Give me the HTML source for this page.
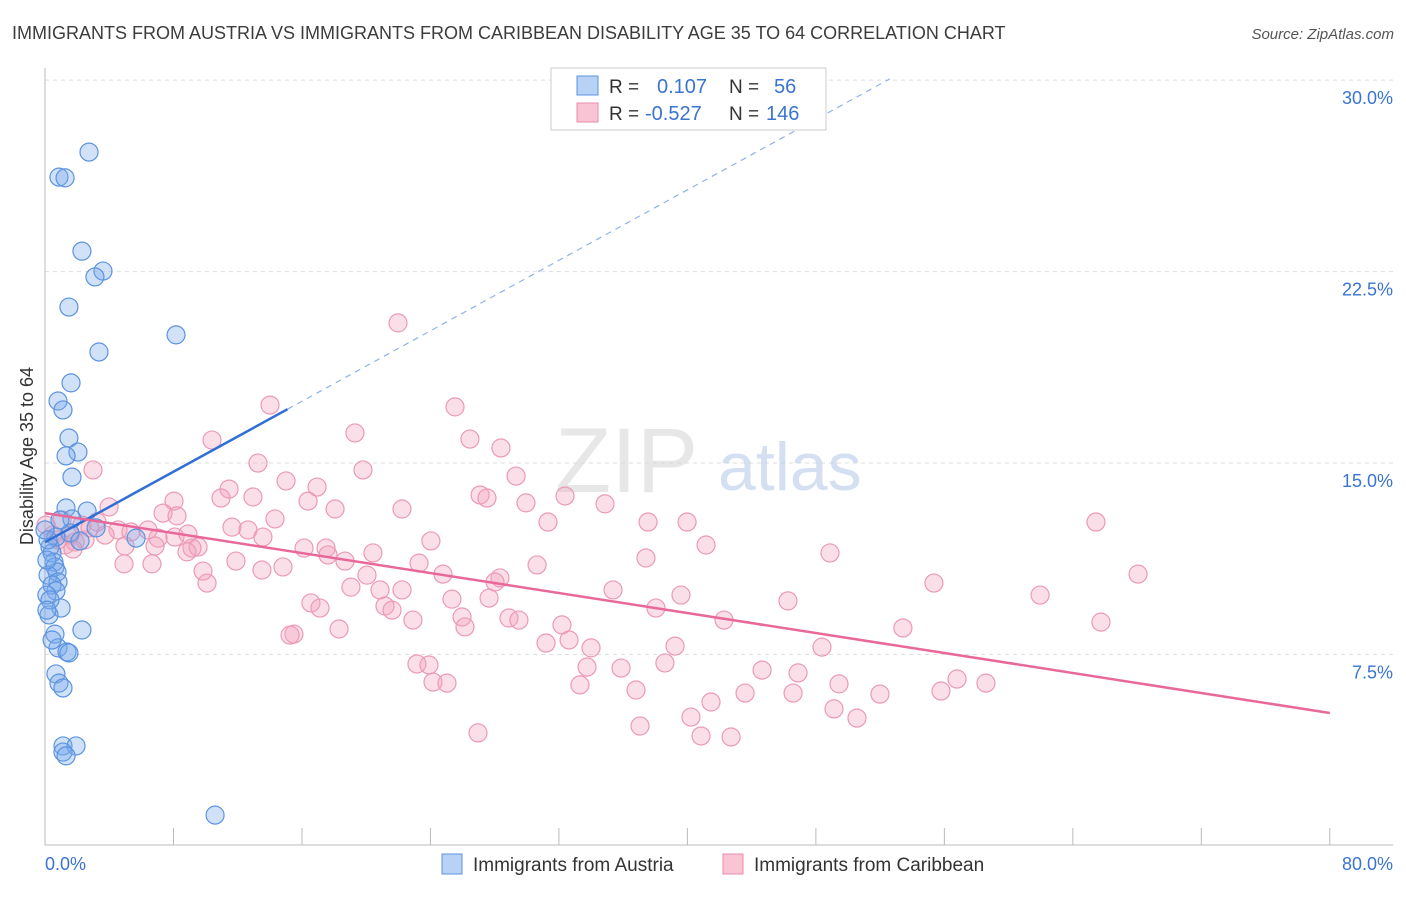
<!DOCTYPE html>
<html><head><meta charset="utf-8"><style>
body{margin:0;background:#fff;font-family:"Liberation Sans",sans-serif;}
svg text{font-family:"Liberation Sans",sans-serif;}
</style></head><body>
<svg id="chart" width="1406" height="892" xmlns="http://www.w3.org/2000/svg">
<text x="12" y="39" font-size="18" fill="#3c3c3c">IMMIGRANTS FROM AUSTRIA VS IMMIGRANTS FROM CARIBBEAN DISABILITY AGE 35 TO 64 CORRELATION CHART</text>
<text x="1394" y="39" font-size="15" fill="#555" text-anchor="end" font-style="italic">Source: ZipAtlas.com</text>
<g id="grid"></g>
<text x="555" y="492" font-size="92" fill="#d8d8d8" font-family="Liberation Serif" opacity="0.6">ZIP</text>
<text x="718" y="490" font-size="68" fill="#b8cdea" opacity="0.6">atlas</text>
<g id="marks"></g>
<text transform="translate(33,456) rotate(-90)" font-size="18" fill="#333" text-anchor="middle">Disability Age 35 to 64</text>
<g>
<rect x="551" y="68" width="275" height="62" fill="#fff" stroke="#ccc"/>
<rect x="577" y="76" width="21" height="19" fill="#b8d2f5" stroke="#5b93e0"/>
<rect x="577" y="103" width="21" height="19" fill="#f9c4d3" stroke="#ea8ca8"/>
<text x="609" y="93" font-size="19" fill="#333">R =</text><text x="657" y="93" font-size="20" fill="#3a74d0">0.107</text>
<text x="729" y="93" font-size="19" fill="#333">N =</text><text x="774" y="93" font-size="20" fill="#3a74d0">56</text>
<text x="609" y="120" font-size="19" fill="#333">R =</text><text x="645" y="120" font-size="20" fill="#3a74d0">-0.527</text>
<text x="729" y="120" font-size="19" fill="#333">N =</text><text x="766" y="120" font-size="20" fill="#3a74d0">146</text>
</g>
<g>
<rect x="442" y="854" width="20" height="20" fill="#b8d2f5" stroke="#5b93e0"/>
<text x="473" y="871" font-size="19" fill="#333">Immigrants from Austria</text>
<rect x="723" y="854" width="20" height="20" fill="#f9c4d3" stroke="#ea8ca8"/>
<text x="754" y="871" font-size="19" fill="#333">Immigrants from Caribbean</text>
</g>
</svg>
<script>
const blueX=[2.74,0.87,1.25,2.3,3.61,3.11,1.49,8.16,3.36,1.62,0.81,1.12,1.49,2.05,1.31,1.68,1.31,2.62,1.68,3.18,1.56,0.68,2.18,0.31,0.44,0.56,0.62,0.75,0.19,0.81,0.44,0.68,0.12,1.0,0.25,2.3,0.62,0.81,1.37,1.49,0.68,0.87,1.12,1.12,1.93,1.12,1.31,10.59,5.67,0.19,0.12,0.31,0.12,0.44,0.93,0];
const blueY=[27.18,26.2,26.17,23.3,22.52,22.29,21.11,20.02,19.35,18.14,17.43,17.08,15.98,15.43,15.28,14.45,13.24,13.12,12.81,12.46,12.26,12.1,11.95,11.71,11.48,11.12,10.93,10.73,10.61,10.34,10.22,9.99,9.83,9.32,9.05,8.46,8.3,7.76,7.6,7.56,6.74,6.38,6.19,3.92,3.92,3.68,3.53,1.21,12.06,11.99,11.2,9.64,9.24,8.07,12.77,12.38];
const pinkX=[21.98,14.01,25.53,19.3,10.4,26.46,28.39,13.26,2.99,19.8,29.33,15.01,11.46,16.94,27.09,32.38,27.52,12.95,8.03,10.96,16.38,34.87,3.99,29.95,22.23,18.06,7.35,8.22,14.32,31.32,37.55,39.98,65.44,3.24,11.64,1.06,4.55,6.41,1.56,5.35,12.64,8.09,8.9,13.57,2.49,3.74,1.87,1.25,7.04,9.53,16.13,17.5,24.03,41.16,4.98,6.85,9.15,48.88,1.74,20.42,8.84,11.89,18.68,23.29,37.42,17.62,4.92,6.66,13.51,14.82,30.64,9.84,24.78,68.06,20.05,28.33,28.02,55.35,10.09,22.23,20.86,35.37,39.6,61.96,19.05,25.34,27.65,16.56,21.17,21.61,38.04,46.26,17.12,25.97,28.89,29.51,22.91,42.28,32.19,65.75,18.31,53.42,26.15,15.5,15.26,32.63,31.2,34.0,39.23,48.38,23.16,23.91,33.75,35.87,38.6,44.65,46.89,24.16,25.03,33.31,49.44,36.8,43.59,55.79,46.58,51.99,58.59,56.79,41.47,40.22,49.13,50.56,37.05,26.96,40.85,42.72,0.06,0.5,0.81,2.3,2.8];
const pinkY=[20.49,17.27,17.2,16.18,15.9,15.94,15.59,15.0,14.73,14.73,14.49,14.3,13.98,14.06,13.75,13.71,13.63,13.67,13.51,13.63,13.51,13.4,13.28,13.44,13.2,13.2,13.04,12.93,12.81,12.69,12.69,12.69,12.69,12.69,12.49,12.77,12.38,12.38,12.18,12.3,12.38,12.1,12.22,12.1,11.99,12.18,11.91,11.79,12.06,11.71,11.67,11.67,11.95,11.79,11.75,11.75,11.67,11.48,11.63,11.48,11.52,11.16,11.16,11.08,11.28,11.4,11.05,11.05,10.81,10.93,11.01,10.77,10.65,10.65,10.61,10.5,10.34,10.3,10.3,10.03,10.03,10.03,9.83,9.83,10.14,9.67,9.71,9.52,9.4,9.24,9.32,9.6,9.32,8.97,8.93,8.85,8.85,8.85,8.66,8.77,8.5,8.54,8.58,8.3,8.26,8.07,7.95,7.76,7.83,7.79,7.13,7.09,7.01,6.97,7.17,6.89,6.78,6.42,6.38,6.31,6.35,6.11,5.99,6.07,5.99,5.95,6.38,6.54,5.64,5.05,5.37,5.01,4.7,4.43,4.31,4.27,12.57,12.18,11.99,12.57,12.46];
const yTicks=[7.5,15.0,22.5,30.0];
const yTickLabels=["7.5%","15.0%","22.5%","30.0%"];
const xTicks=[0,8,16,24,32,40,48,56,64,72,80];
const blueTrend=[11.9,0.345,15.1,52.6];   // intercept, slope, solid end, dashed end
const pinkTrend=[13.04,5.21];             // value at 0, value at 80

const X=v=>45+v*16.06, Y=v=>846-v*25.53;
const NS="http://www.w3.org/2000/svg";
function mk(tag,attrs,parent){const e=document.createElementNS(NS,tag);for(const k in attrs)e.setAttribute(k,attrs[k]);parent.appendChild(e);return e;}
const grid=document.getElementById('grid'), marks=document.getElementById('marks');
yTicks.forEach((t,i)=>{
  const g=mk('line',{x1:45,x2:1393,y1:Y(t),y2:Y(t),stroke:'#ddd','stroke-dasharray':'4,4'},grid);
  
  
  const l=mk('text',{x:1393,y:Y(t)+24,'font-size':18,fill:'#3a74d0','text-anchor':'end'},grid);
  l.textContent=yTickLabels[i];
  
  
});
const ax=mk('line',{x1:45,x2:45,y1:68,y2:845,stroke:'#bbb'},grid);


const bx=mk('line',{x1:45,x2:1393,y1:845,y2:845,stroke:'#bbb'},grid);


xTicks.forEach(t=>{
  const k=mk('line',{x1:X(t),x2:X(t),y1:828,y2:845,stroke:'#bbb'},grid);
  
  
});
const xl0=mk('text',{x:45,y:870,'font-size':18,fill:'#3a74d0'},grid);xl0.textContent=xTicks[0].toFixed(1)+'%';


const xl1=mk('text',{x:1393,y:870,'font-size':18,fill:'#3a74d0','text-anchor':'end'},grid);xl1.textContent=xTicks[xTicks.length-1].toFixed(1)+'%';



pinkX.forEach((x,i)=>{
  const c=mk('circle',{cx:X(x),cy:Y(pinkY[i]),r:9,fill:'rgba(244,163,189,0.35)',stroke:'#ec9ab4','stroke-width':1.2},marks);
  
  
});
blueX.forEach((x,i)=>{
  const c=mk('circle',{cx:X(x),cy:Y(blueY[i]),r:9,fill:'rgba(120,170,235,0.35)',stroke:'#5b93e0','stroke-width':1.2},marks);
  
  
});
const bf=v=>blueTrend[0]+blueTrend[1]*v;
const bs=mk('line',{x1:X(0),y1:Y(bf(0)),x2:X(blueTrend[2]),y2:Y(bf(blueTrend[2])),stroke:'#2f6fd6','stroke-width':2.5},marks);


const bd=mk('line',{x1:X(blueTrend[2]),y1:Y(bf(blueTrend[2])),x2:X(blueTrend[3]),y2:Y(bf(blueTrend[3])),stroke:'#8fb3e8','stroke-width':1.2,'stroke-dasharray':'6,5'},marks);


const pl=mk('line',{x1:X(0),y1:Y(pinkTrend[0]),x2:X(80),y2:Y(pinkTrend[1]),stroke:'#e8689a','stroke-width':2.5},marks);


</script>
</body></html>
